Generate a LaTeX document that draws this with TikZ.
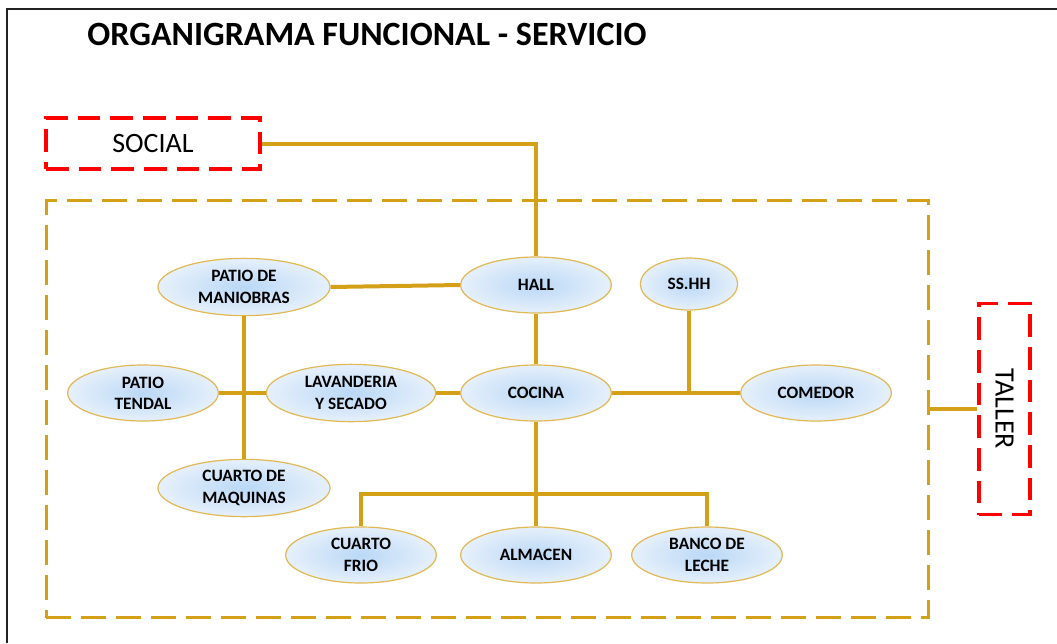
\documentclass[tikz,border=0pt]{standalone}
\usepackage{fontspec}
\setmainfont{Carlito}
\usetikzlibrary{shapes.geometric,positioning}

\definecolor{oro}{RGB}{212,160,23}
\definecolor{oroclaro}{RGB}{224,184,84}
\definecolor{rojo}{RGB}{255,0,0}
\definecolor{celeste}{RGB}{186,216,246}
\definecolor{celclaro}{RGB}{230,240,251}
\definecolor{marco}{RGB}{34,34,34}

\begin{document}
\begin{tikzpicture}[x=0.75pt,y=-0.75pt,
  amb/.style={ellipse,draw=oroclaro,line width=0.9pt,inner color=celeste,outer color=celclaro,
              inner sep=0pt,align=center,minimum width=113pt,minimum height=42pt,
              font=\fontsize{13}{16}\selectfont\bfseries,text=black},
  ancho/.style={minimum width=129pt,minimum height=43pt},
  zona/.style={draw=rojo,line width=2.6pt,dash pattern=on 17pt off 7.5pt,
               font=\fontsize{21}{24}\selectfont,inner sep=0pt},
  area/.style={draw=oro,line width=2.25pt,dash pattern=on 18.75pt off 7.5pt,inner sep=0pt,
               minimum width=661.5pt,minimum height=312.75pt},
  conn/.style={draw=oro,line width=3pt}]

\useasboundingbox (0,0) rectangle (1057,643);

% ---- marco y titulo ----
\draw[marco,line width=1.2pt] (7,643) -- (7,9) -- (1057,9);
\node[font=\fontsize{25.5}{30}\selectfont\bfseries] (titulo) at (367,34) {ORGANIGRAMA FUNCIONAL - SERVICIO};

% ---- zonas vecinas ----
\node[zona,minimum width=160.5pt,minimum height=38.25pt] (social) at (153,143.5) {SOCIAL};
\node[zona,minimum width=38.25pt,minimum height=158.25pt] (taller) at (1004.5,409) {};
\node[font=\fontsize{21}{24}\selectfont,rotate=-90] (tallertxt) at (taller) {TALLER};

% ---- area de servicio ----
\node[area] (servicio) at (487,409) {};

% ---- ambientes ----
\node[amb,ancho] (maniobras) at (244,287) {PATIO DE\\MANIOBRAS};
\node[amb] (hall) at (536,285) {HALL};
\node[amb,minimum width=73pt,minimum height=39pt] (sshh) at (689,284) {SS.HH};
\node[amb] (tendal) at (143,393) {PATIO\\TENDAL};
\node[amb,minimum width=127pt,minimum height=43pt] (lavanderia) at (351,393) {LAVANDERIA\\Y SECADO};
\node[amb] (cocina) at (536,393) {COCINA};
\node[amb] (comedor) at (816,393) {COMEDOR};
\node[amb,ancho] (maquinas) at (244,488) {CUARTO DE\\MAQUINAS};
\node[amb] (frio) at (361,555) {CUARTO\\FRIO};
\node[amb] (almacen) at (536,555) {ALMACEN};
\node[amb] (leche) at (707,555) {BANCO DE\\LECHE};

% ---- conexiones ----
\draw[conn] (social.east) -| (hall.north);
\draw[conn] (maniobras.east) -- (hall.west);
\draw[conn] (hall.south) -- (cocina.north);
\draw[conn] (maniobras.south) -- (maquinas.north);
\draw[conn] (tendal.east) -- (lavanderia.west);
\draw[conn] (lavanderia.east) -- (cocina.west);
\draw[conn] (cocina.east) -- (comedor.west);
\draw[conn] (sshh.south) -- (sshh.south |- cocina.east);
\coordinate (reparto) at (536,494);
\draw[conn] (cocina.south) -- (almacen.north);
\draw[conn] (frio.north) |- (reparto) -| (leche.north);
\draw[conn] (servicio.east) -- (taller.west);
\end{tikzpicture}
\end{document}
